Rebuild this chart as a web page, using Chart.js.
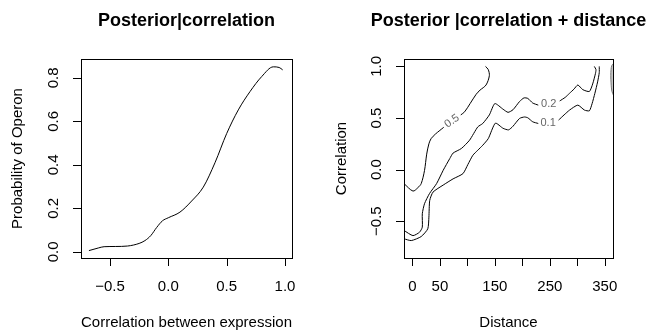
<!DOCTYPE html>
<html>
<head>
<meta charset="utf-8">
<script src="https://cdn.jsdelivr.net/npm/chart.js@4.4.1/dist/chart.umd.min.js"></script>
<style>
html, body { margin: 0; padding: 0; background: #fff; }
#wrap { position: relative; width: 647px; height: 331px; overflow: hidden; }
canvas { position: absolute; top: 0; }
#left { left: 0; }
#right { left: 324px; }
</style>
</head>
<body>
<div id="wrap">
  <canvas id="left" width="324" height="331"></canvas>
  <canvas id="right" width="323" height="331"></canvas>
</div>
<script>
// left panel: posterior given correlation
const corrGrid = [-0.68, -0.6, -0.55, -0.45, -0.35, -0.25, -0.2, -0.15, -0.1, -0.05, 0.0, 0.1, 0.2, 0.3, 0.4, 0.5, 0.6, 0.7, 0.8, 0.9, 0.95, 0.98];
const probOperon = [0.006, 0.018, 0.024, 0.025, 0.027, 0.039, 0.052, 0.075, 0.112, 0.143, 0.157, 0.183, 0.234, 0.298, 0.41, 0.544, 0.653, 0.737, 0.806, 0.851, 0.848, 0.837];
const leftXTicks = [-0.5, 0.0, 0.5, 1.0];
const leftXLabels = ['\u22120.5', '0.0', '0.5', '1.0'];
const leftYTicks = [0.0, 0.2, 0.4, 0.6, 0.8];
const leftYLabels = ['0.0', '0.2', '0.4', '0.6', '0.8'];

// right panel: contour lines (distance, correlation), split where the level label sits
const lvl05aDist = [-15.3, 1, 10, 16, 22, 26, 30, 34, 42, 50, 57];
const lvl05aCorr = [-0.136, -0.208, -0.175, -0.136, -0.01, 0.15, 0.25, 0.3, 0.345, 0.38, 0.41];
const lvl05bDist = [88, 95, 105, 116, 123, 134, 140, 138, 133];
const lvl05bCorr = [0.53, 0.56, 0.64, 0.73, 0.77, 0.82, 0.91, 0.97, 1.0];
const lvl02aDist = [-15.3, 1, 13, 18, 18, 22, 31, 44, 56, 68, 74, 89, 104, 119, 128, 140, 150, 165, 174, 183, 195, 203, 210, 219, 229];
const lvl02aCorr = [-0.59, -0.64, -0.607, -0.558, -0.428, -0.331, -0.233, -0.136, -0.007, 0.107, 0.16, 0.204, 0.285, 0.414, 0.447, 0.53, 0.64, 0.585, 0.555, 0.58, 0.66, 0.695, 0.69, 0.645, 0.625];
const lvl02bDist = [268, 278, 286, 294, 301, 310, 322, 328, 333, 334, 331];
const lvl02bCorr = [0.665, 0.70, 0.74, 0.78, 0.82, 0.775, 0.757, 0.83, 0.93, 0.97, 1.0];
const lvl01aDist = [-15.3, -2, 16, 28, 30, 31.5, 37.5, 56, 74, 92, 101, 110, 119, 128, 138, 151, 165, 175, 183, 195, 204, 210, 219, 229];
const lvl01aCorr = [-0.671, -0.688, -0.649, -0.574, -0.461, -0.299, -0.218, -0.15, -0.09, -0.039, 0.05, 0.139, 0.188, 0.236, 0.30, 0.45, 0.40, 0.385, 0.42, 0.496, 0.51, 0.502, 0.463, 0.447];
const lvl01bDist = [266, 276, 286, 301, 313, 322, 327, 332, 337, 340, 340];
const lvl01bCorr = [0.48, 0.53, 0.577, 0.625, 0.577, 0.57, 0.64, 0.739, 0.85, 0.94, 1.0];
const edgeDist = [366, 363, 361.5, 361, 361.5, 363, 366];
const edgeCorr = [0.72, 0.76, 0.84, 0.91, 0.97, 1.01, 1.03];
const levelLabels = ['0.5', '0.2', '0.1'];
const levelLabelDist = [72, 248, 247];
const levelLabelCorr = [0.47, 0.64, 0.455];
const levelLabelAngle = [-36, 0, 0];
const rightXTicks = [0, 50, 100, 150, 200, 250, 300, 350];
const rightXLabelled = [0, 50, 150, 250, 350];
const rightYTicks = [-0.5, 0.0, 0.5, 1.0];
const rightYLabels = ['\u22120.5', '0.0', '0.5', '1.0'];

const FONT = '"Liberation Sans", Arial, Helvetica, sans-serif';

function pts(xs, ys) {
    return xs.map((x, i) => ({x: x, y: ys[i]}));
}

function lineSet(xs, ys, tension) {
    return {
        data: pts(xs, ys),
        showLine: true,
        borderColor: '#000',
        borderWidth: 1,
        pointRadius: 0,
        tension: tension
    };
}

// draws the R style frame, ticks and texts
const rFrame = {
    id: 'rFrame',
    afterDraw(chart, args, o) {
        const ctx = chart.ctx;
        const a = chart.chartArea;
        const xs = chart.scales.x;
        const ys = chart.scales.y;
        ctx.save();
        ctx.strokeStyle = '#000';
        ctx.lineWidth = 1;
        ctx.strokeRect(Math.round(a.left) + 0.5, Math.round(a.top) + 0.5,
            Math.round(a.right - a.left), Math.round(a.bottom - a.top));
        ctx.fillStyle = '#000';
        ctx.font = '15px ' + FONT;
        ctx.textAlign = 'center';
        ctx.textBaseline = 'middle';
        ctx.beginPath();
        o.xTicks.forEach(v => {
            const px = Math.round(xs.getPixelForValue(v)) + 0.5;
            ctx.moveTo(px, a.bottom);
            ctx.lineTo(px, a.bottom + 8);
        });
        o.yTicks.forEach(v => {
            const py = Math.round(ys.getPixelForValue(v)) + 0.5;
            ctx.moveTo(a.left, py);
            ctx.lineTo(a.left - 8, py);
        });
        ctx.stroke();
        o.xLabels.forEach((t, i) => {
            const v = o.xLabelAt[i];
            ctx.fillText(t, xs.getPixelForValue(v), a.bottom + 29);
        });
        o.yLabels.forEach((t, i) => {
            ctx.save();
            ctx.translate(a.left - 27, ys.getPixelForValue(o.yTicks[i]));
            ctx.rotate(-Math.PI / 2);
            ctx.fillText(t, 0, 0);
            ctx.restore();
        });
        const cx = (a.left + a.right) / 2;
        const cy = (a.top + a.bottom) / 2;
        ctx.fillText(o.xTitle, cx, 323);
        ctx.save();
        ctx.translate(o.yTitleX, cy);
        ctx.rotate(-Math.PI / 2);
        ctx.fillText(o.yTitle, 0, 0);
        ctx.restore();
        ctx.font = 'bold 18px ' + FONT;
        ctx.fillText(o.title, cx, 21);
        if (o.levels) {
            ctx.font = '11px ' + FONT;
            ctx.fillStyle = '#666';
            o.levels.forEach((t, i) => {
                ctx.save();
                ctx.translate(xs.getPixelForValue(o.levelX[i]), ys.getPixelForValue(o.levelY[i]));
                ctx.rotate(o.levelA[i] * Math.PI / 180);
                ctx.fillText(t, 0, 0);
                ctx.restore();
            });
        }
        ctx.restore();
    }
};

const hiddenScale = (min, max) => ({type: 'linear', min: min, max: max, display: false});

new Chart(document.getElementById('left'), {
    type: 'scatter',
    data: {
        datasets: [{
            data: pts(corrGrid, probOperon),
            showLine: true,
            borderColor: '#000',
            borderWidth: 1,
            pointRadius: 0,
            cubicInterpolationMode: 'monotone'
        }]
    },
    options: {
        responsive: false,
        animation: false,
        layout: {padding: {left: 81, top: 59, right: 32, bottom: 73}},
        scales: {x: hiddenScale(-0.748, 1.06), y: hiddenScale(-0.028, 0.887)},
        plugins: {
            legend: {display: false},
            tooltip: {enabled: false},
            rFrame: {
                xTicks: leftXTicks, xLabels: leftXLabels, xLabelAt: leftXTicks,
                yTicks: leftYTicks, yLabels: leftYLabels,
                xTitle: 'Correlation between expression',
                yTitle: 'Probability of Operon', yTitleX: 18,
                title: 'Posterior|correlation'
            }
        }
    },
    plugins: [rFrame]
});

const edge = lineSet(edgeDist, edgeCorr, 0.4);
edge.fill = 'shape';
edge.backgroundColor = '#c8c8c8';
edge.borderColor = '#777';

new Chart(document.getElementById('right'), {
    type: 'scatter',
    data: {
        datasets: [
            lineSet(lvl05aDist, lvl05aCorr, 0.3),
            lineSet(lvl05bDist, lvl05bCorr, 0.3),
            lineSet(lvl02aDist, lvl02aCorr, 0.2),
            lineSet(lvl02bDist, lvl02bCorr, 0.2),
            lineSet(lvl01aDist, lvl01aCorr, 0.2),
            lineSet(lvl01bDist, lvl01bCorr, 0.2),
            edge
        ]
    },
    options: {
        responsive: false,
        animation: false,
        layout: {padding: {left: 80, top: 59, right: 34, bottom: 73}},
        scales: {x: hiddenScale(-15.3, 365), y: hiddenScale(-0.857, 1.072)},
        plugins: {
            legend: {display: false},
            tooltip: {enabled: false},
            rFrame: {
                xTicks: rightXTicks, xLabels: rightXLabelled.map(String), xLabelAt: rightXLabelled,
                yTicks: rightYTicks, yLabels: rightYLabels,
                xTitle: 'Distance',
                yTitle: 'Correlation', yTitleX: 18,
                title: 'Posterior |correlation + distance',
                levels: levelLabels, levelX: levelLabelDist, levelY: levelLabelCorr, levelA: levelLabelAngle
            }
        }
    },
    plugins: [rFrame]
});
</script>
</body>
</html>
